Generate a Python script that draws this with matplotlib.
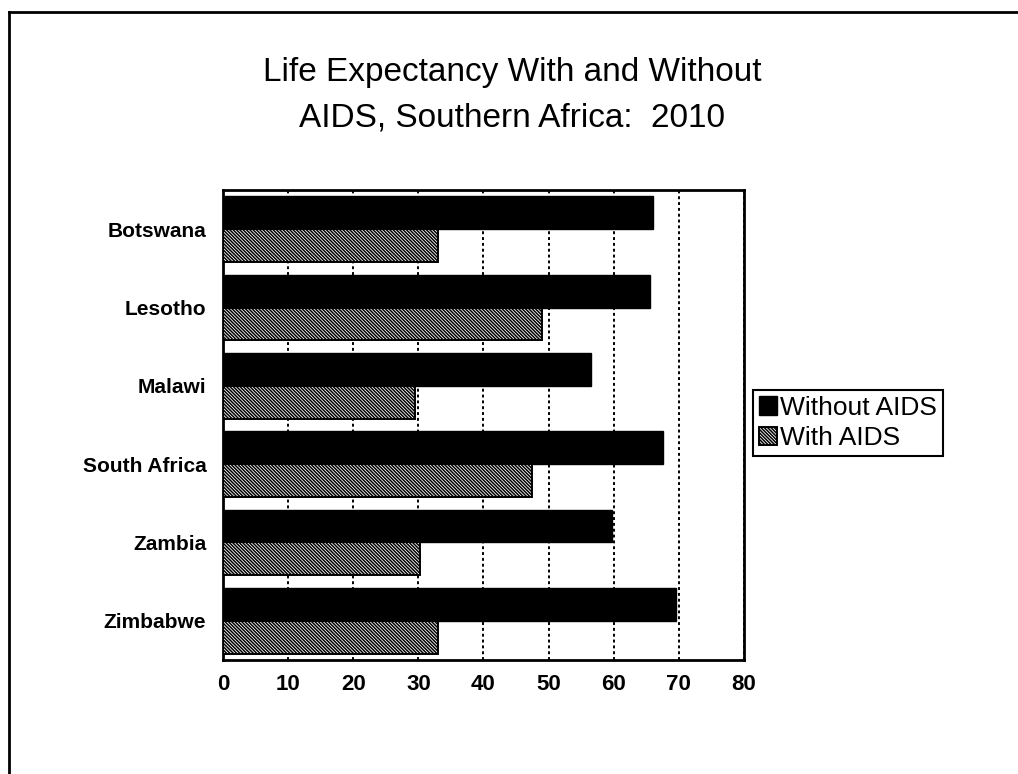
import matplotlib
matplotlib.use("Agg")
import matplotlib.pyplot as plt
from matplotlib.lines import Line2D
import numpy as np

countries = ["Botswana", "Lesotho", "Malawi", "South Africa", "Zambia", "Zimbabwe"]
without_aids = [66.0, 65.5, 56.5, 67.5, 59.7, 69.5]
with_aids = [33.0, 49.0, 29.5, 47.5, 30.2, 33.0]
x_ticks = [0, 10, 20, 30, 40, 50, 60, 70, 80]

plt.rcParams['font.family'] = ['Liberation Sans', 'DejaVu Sans']
plt.rcParams['hatch.linewidth'] = 1.1
plt.rcParams['hatch.color'] = 'black'

fig = plt.figure(figsize=(10.18, 7.74), dpi=100)
ax = fig.add_axes([0.219, 0.1473, 0.5118, 0.6072])

y = np.arange(len(countries))
h = 0.42
ax.barh(y - h/2, without_aids, height=h, color='black', edgecolor='black',
        label='Without AIDS', zorder=3)
ax.barh(y + h/2, with_aids, height=h, color='white', edgecolor='black',
        linewidth=1.4, hatch='\\' * 10, label='With AIDS', zorder=3)

ax.set_xlim(0, 80)
ax.set_ylim(len(countries) - 0.5, -0.5)
ax.set_xticks(x_ticks)
ax.set_xticklabels([str(t) for t in x_ticks], fontsize=16, fontweight='bold')
ax.set_yticks(y)
ax.set_yticklabels(countries, fontsize=15, fontweight='bold')
ax.tick_params(axis='both', length=0)
ax.tick_params(axis='y', pad=12)
ax.tick_params(axis='x', pad=10)
ax.xaxis.grid(True, color='black', linestyle=(0, (1.5, 1.5)), linewidth=1.4, zorder=0)
ax.set_axisbelow(True)
for s in ax.spines.values():
    s.set_linewidth(2)

fig.suptitle("Life Expectancy With and Without\nAIDS, Southern Africa:  2010",
             x=0.503, y=0.877, va='center', fontsize=24, linespacing=1.6)

leg = fig.legend(loc='upper left', bbox_to_anchor=(0.7397, 0.496), fontsize=19,
                 frameon=True, fancybox=False, edgecolor='black', framealpha=1,
                 handlelength=0.7, handleheight=0.7, handletextpad=0.1,
                 borderpad=0.22, labelspacing=0.25, borderaxespad=0)
leg.get_frame().set_linewidth(1.5)

# page border: top and left edges
fig.add_artist(Line2D([9/1018, 1.0], [1 - 12/774, 1 - 12/774], color='black', linewidth=2))
fig.add_artist(Line2D([9/1018, 9/1018], [0.0, 1 - 12/774], color='black', linewidth=2))

fig.savefig("out.png", dpi=100)
